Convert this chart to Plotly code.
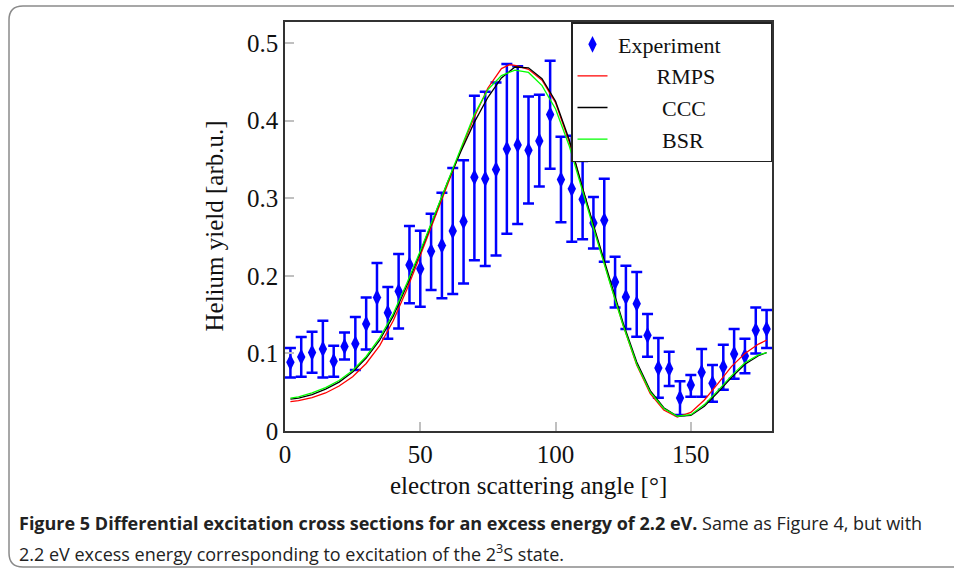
import plotly.graph_objects as go

# ---------------- data ----------------
exp_angle = [2, 6, 10, 14, 18, 22, 26, 30, 34, 38, 42, 46, 50, 54, 58, 62, 66, 70, 74, 78,
             82, 86, 90, 94, 98, 102, 106, 110, 114, 118, 122, 126, 130, 134, 138, 142, 146,
             150, 154, 158, 162, 166, 170, 174, 178]
exp_yield = [0.0885, 0.0954, 0.101, 0.1057, 0.090, 0.109, 0.1125, 0.138, 0.172, 0.1525, 0.180,
             0.214, 0.209, 0.2315, 0.239, 0.2577, 0.270, 0.327, 0.325, 0.337, 0.3634, 0.3686,
             0.3617, 0.3737, 0.4077, 0.324, 0.312, 0.2985, 0.268, 0.2715, 0.192, 0.1727, 0.164,
             0.1233, 0.0812, 0.0803, 0.0425, 0.0593, 0.0756, 0.0614, 0.0825, 0.0992, 0.0966,
             0.1297, 0.1314]
exp_upper = [0.107, 0.121, 0.128, 0.142, 0.110, 0.127, 0.147, 0.172, 0.2165, 0.1856, 0.228,
             0.264, 0.258, 0.280, 0.307, 0.339, 0.349, 0.432, 0.437, 0.449, 0.473, 0.470,
             0.431, 0.4334, 0.477, 0.379, 0.3805, 0.348, 0.3015, 0.325, 0.2246, 0.213, 0.205,
             0.1508, 0.1198, 0.102, 0.064, 0.0722, 0.1057, 0.085, 0.111, 0.1314, 0.119,
             0.159, 0.156]
exp_lower = [0.069, 0.070, 0.075, 0.069, 0.070, 0.092, 0.0786, 0.105, 0.128, 0.119, 0.132,
             0.1645, 0.160, 0.1817, 0.171, 0.1765, 0.190, 0.220, 0.2126, 0.226, 0.254, 0.2668,
             0.293, 0.315, 0.338, 0.269, 0.244, 0.247, 0.235, 0.218, 0.159, 0.1314, 0.1215,
             0.0958, 0.043, 0.058, 0.0206, 0.0442, 0.0442, 0.0378, 0.053, 0.0674, 0.0743,
             0.100, 0.107]

theory_angle = [2, 5, 10, 15, 20, 25, 30, 35, 40, 45, 50, 55, 60, 65, 70, 75, 80, 85, 90,
                95, 100, 105, 110, 115, 120, 125, 130, 135, 140, 145, 150, 155, 160, 165,
                170, 175, 178]
bsr = [0.0425, 0.044, 0.049, 0.056, 0.065, 0.078, 0.096, 0.120, 0.151, 0.190, 0.232, 0.276,
       0.320, 0.363, 0.408, 0.440, 0.458, 0.465, 0.462, 0.445, 0.415, 0.368, 0.308, 0.250,
       0.192, 0.136, 0.086, 0.050, 0.029, 0.019, 0.021, 0.034, 0.052, 0.071, 0.088, 0.098,
       0.101]
ccc = [0.041, 0.0425, 0.047, 0.054, 0.063, 0.076, 0.094, 0.117, 0.148, 0.187, 0.230, 0.275,
       0.320, 0.360, 0.398, 0.430, 0.455, 0.469, 0.468, 0.454, 0.425, 0.376, 0.313, 0.254,
       0.195, 0.139, 0.089, 0.052, 0.030, 0.019, 0.020, 0.032, 0.050, 0.069, 0.086, 0.097,
       0.101]
rmps_angle = [2, 5, 10, 15, 20, 25, 30, 35, 40, 45, 50, 55, 60, 65, 70, 75, 80, 83, 85, 90,
              95, 100, 105, 110, 115, 120, 125, 130, 135, 140, 145, 150, 155, 160, 165, 170,
              175, 178]
rmps = [0.0378, 0.039, 0.043, 0.049, 0.058, 0.070, 0.087, 0.110, 0.142, 0.182, 0.226, 0.272,
        0.318, 0.362, 0.405, 0.442, 0.467, 0.472, 0.471, 0.466, 0.452, 0.423, 0.373, 0.311,
        0.252, 0.193, 0.136, 0.085, 0.048, 0.027, 0.018, 0.024, 0.040, 0.061, 0.083, 0.100,
        0.112, 0.117]

series_names = ["Experiment", "RMPS", "CCC", "BSR"]
x_ticks = [0, 50, 100, 150]
x_ticktext = ["0", "50", "100", "150"]
y_ticks = [0, 0.1, 0.2, 0.3, 0.4, 0.5]
y_ticktext = ["0", "0.1", "0.2", "0.3", "0.4", "0.5"]

# ---------------- figure ----------------
W, H = 954, 574
L, R, T, B = 285, 772, 22, 431
serif = "Liberation Serif, DejaVu Serif, serif"
sans = "Open Sans, Noto Sans, sans-serif"
NB = "\u00a0"


def centred(name, longest=10):
    pad = max(0, round((longest - len(name)) * 1.15))
    return NB + NB * pad + name + NB * pad + NB * 2


err_plus = [u - y for u, y in zip(exp_upper, exp_yield)]
err_minus = [y - l for l, y in zip(exp_lower, exp_yield)]

fig = go.Figure()
fig.add_trace(go.Scatter(
    x=exp_angle, y=exp_yield, mode="markers", name=centred(series_names[0]),
    marker=dict(symbol="diamond-tall", size=12, color="#0000FF", line=dict(width=0)),
    error_y=dict(type="data", symmetric=False, array=err_plus, arrayminus=err_minus,
                 color="#0000FF", thickness=2.5, width=5.5),
))
fig.add_trace(go.Scatter(x=rmps_angle, y=rmps, mode="lines", name=centred(series_names[1]),
                         line=dict(color="#FF0000", width=1.3)))
fig.add_trace(go.Scatter(x=theory_angle, y=ccc, mode="lines", name=centred(series_names[2]),
                         line=dict(color="#000000", width=1.3)))
fig.add_trace(go.Scatter(x=theory_angle, y=bsr, mode="lines", name=centred(series_names[3]),
                         line=dict(color="#00FF00", width=1.3)))


def px(xp):
    return (xp - L) / (R - L)


def py(yp):
    return (B - yp) / (B - T)


axis_common = dict(showgrid=False, zeroline=False, showline=True, linecolor="#333333",
                   linewidth=1.5, mirror=True, ticks="inside", tickcolor="#c0c0c0",
                   ticklen=9, tickwidth=1.5,
                   tickfont=dict(family=serif, size=25, color="#111111"))

fig.update_layout(
    width=W, height=H,
    margin=dict(l=L, r=W - R, t=T, b=H - B),
    paper_bgcolor="white", plot_bgcolor="white",
    showlegend=True,
    legend=dict(x=1, y=1, xanchor="right", yanchor="top", bgcolor="white",
                bordercolor="#222222", borderwidth=1.5,
                font=dict(family=serif, size=22, color="#111111"),
                itemwidth=30, tracegroupgap=0),
    xaxis=dict(range=[0, 180], tickvals=x_ticks, ticktext=x_ticktext, **axis_common),
    yaxis=dict(range=[0, 0.527], tickvals=y_ticks, ticktext=y_ticktext, **axis_common),
)

fig.add_annotation(text="electron scattering angle [°]", xref="paper", yref="paper",
                   x=0.5, y=py(486), xanchor="center", yanchor="middle", showarrow=False,
                   font=dict(family=serif, size=25, color="#111111"))
fig.add_annotation(text="Helium yield [arb.u.]", xref="paper", yref="paper",
                   x=px(214), y=0.5, xanchor="center", yanchor="middle", showarrow=False,
                   textangle=-90, font=dict(family=serif, size=25, color="#111111"))

fig.add_annotation(
    text="<b>Figure 5 Differential excitation cross sections for an excess energy of 2.2 eV.</b>"
         " Same as Figure 4, but with",
    xref="paper", yref="paper", x=px(17), y=py(523), xanchor="left", yanchor="middle",
    showarrow=False, font=dict(family=sans, size=18, color="#222222"))
fig.add_annotation(
    text="2.2 eV excess energy corresponding to excitation of the 2<sup>3</sup>S state.",
    xref="paper", yref="paper", x=px(17), y=py(553), xanchor="left", yanchor="middle",
    showarrow=False, font=dict(family=sans, size=18, color="#222222"))

# outer rounded frame (right edge runs off the page, as in the reference)
x0, x1 = px(9), px(990)
y0, y1 = py(567), py(6)
rx, ry = 14 / (R - L), 14 / (B - T)
path = (f"M {x0+rx},{y1} L {x1},{y1} L {x1},{y0} L {x0+rx},{y0} "
        f"Q {x0},{y0} {x0},{y0+ry} L {x0},{y1-ry} Q {x0},{y1} {x0+rx},{y1} Z")
fig.add_shape(type="path", path=path, xref="paper", yref="paper",
              line=dict(color="#8a8a8a", width=1.5), layer="below")

fig.write_html("out.html",
               config={"displayModeBar": False},
               post_script="document.body.style.margin='0';"
                           "document.body.style.overflow='hidden';")
